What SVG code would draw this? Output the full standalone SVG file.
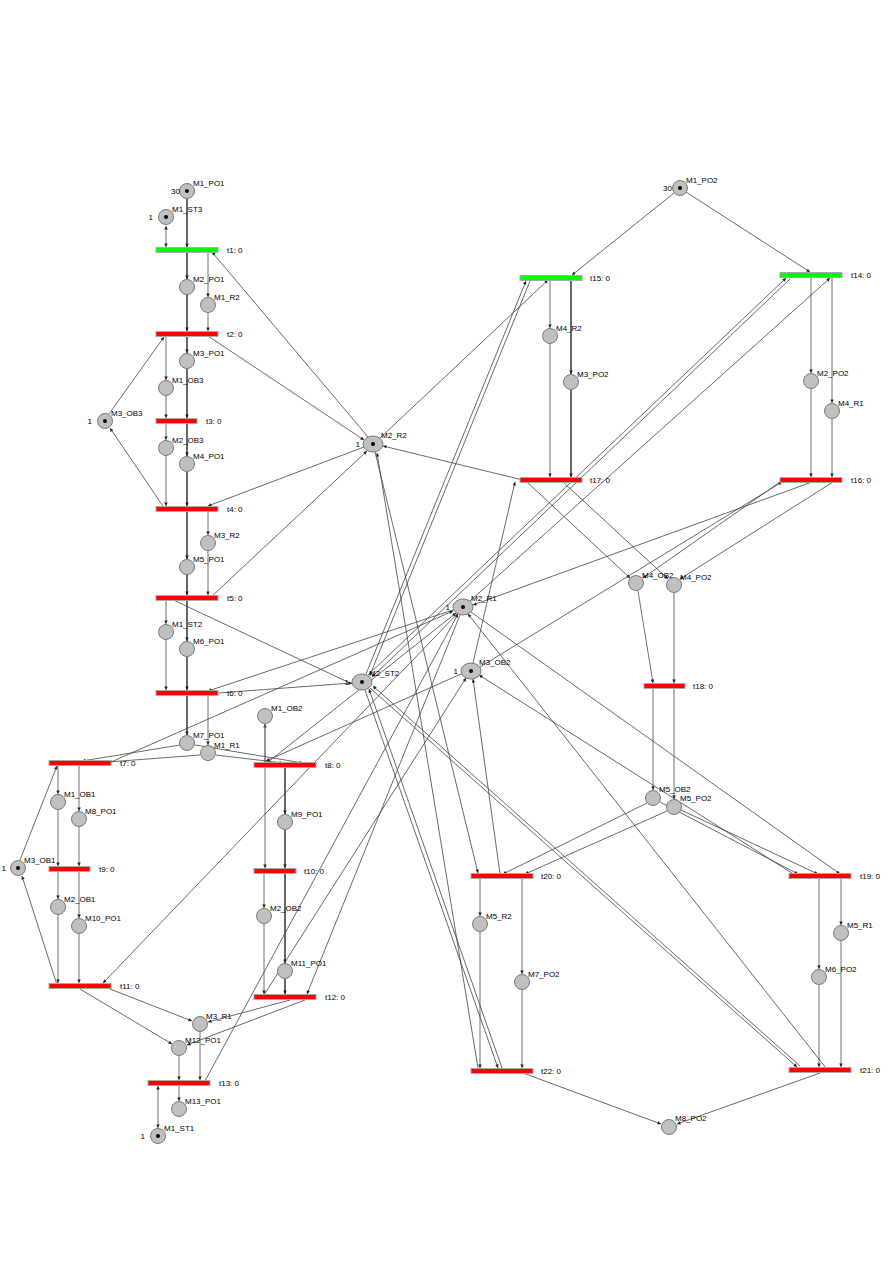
<svg xmlns="http://www.w3.org/2000/svg" width="893" height="1263" viewBox="0 0 893 1263">
<defs>
<style>
.p{fill:#c0c0c0;stroke:#7a7a7a;stroke-width:1}
.tr{fill:#ff0000;stroke:#a8a8a8;stroke-width:1}
.tg{fill:#00ff00;stroke:#a8a8a8;stroke-width:1}
.lbl{font-family:"Liberation Sans",Arial,sans-serif;font-size:8px;fill:#000}
.tok{fill:#000}
.b{stroke:#000;stroke-width:1.2;fill:none;marker-end:url(#ar)}
.g{stroke:#707070;stroke-width:1;fill:none;marker-end:url(#ar)}
.d{stroke:#444;stroke-width:0.8;fill:none;marker-end:url(#ar)}
.bi{marker-start:url(#ar)}
</style>
<marker id="ar" viewBox="0 0 6 6" refX="6" refY="3" markerWidth="4.5" markerHeight="3.5" markerUnits="userSpaceOnUse" orient="auto-start-reverse">
<path d="M0,0 L6,3 L0,6 z" fill="#222"/>
</marker>
</defs>
<rect x="0" y="0" width="893" height="1263" fill="#fff"/>
<g id="connectors">
<line class="b" x1="187" y1="198.5" x2="187" y2="247"/>
<line class="b" x1="187" y1="252.5" x2="187" y2="279"/>
<line class="b" x1="187" y1="295" x2="187" y2="331"/>
<line class="b" x1="187" y1="337" x2="187" y2="353"/>
<line class="b" x1="187" y1="369" x2="187" y2="418"/>
<line class="b" x1="187" y1="424" x2="187" y2="456"/>
<line class="b" x1="187" y1="472" x2="187" y2="506"/>
<line class="b" x1="187" y1="512" x2="187" y2="559"/>
<line class="b" x1="187" y1="575" x2="187" y2="595"/>
<line class="b" x1="187" y1="601" x2="187" y2="641"/>
<line class="b" x1="187" y1="657" x2="187" y2="690"/>
<line class="b" x1="187" y1="696" x2="187" y2="735"/>
<line class="b" x1="285" y1="768" x2="285" y2="814"/>
<line class="b" x1="285" y1="830" x2="285" y2="868"/>
<line class="b" x1="285" y1="874" x2="285" y2="963"/>
<line class="b" x1="285" y1="979" x2="285" y2="994"/>
<line class="b" x1="571" y1="281" x2="571" y2="374"/>
<line class="b" x1="571" y1="390" x2="571" y2="477"/>
<line class="g bi" x1="166" y1="226" x2="166" y2="247"/>
<line class="g" x1="208" y1="253" x2="208" y2="297"/>
<line class="g" x1="208" y1="313" x2="208" y2="331"/>
<line class="g" x1="166" y1="337" x2="166" y2="380"/>
<line class="g" x1="166" y1="396" x2="166" y2="418"/>
<line class="g" x1="166" y1="424" x2="166" y2="440"/>
<line class="g" x1="166" y1="456" x2="166" y2="506"/>
<line class="g" x1="208" y1="512" x2="208" y2="535"/>
<line class="g" x1="208" y1="551" x2="208" y2="595"/>
<line class="g" x1="166" y1="601" x2="166" y2="624"/>
<line class="g" x1="166" y1="640" x2="166" y2="690"/>
<line class="g" x1="208" y1="696" x2="208" y2="745"/>
<line class="g" x1="58" y1="766" x2="58" y2="794"/>
<line class="g" x1="79" y1="766" x2="79" y2="811"/>
<line class="g" x1="58" y1="810" x2="58" y2="866"/>
<line class="g" x1="79" y1="827" x2="79" y2="866"/>
<line class="g" x1="58" y1="872" x2="58" y2="899"/>
<line class="g" x1="79" y1="872" x2="79" y2="918"/>
<line class="g" x1="58" y1="915" x2="58" y2="983"/>
<line class="g" x1="79" y1="934" x2="79" y2="983"/>
<line class="g" x1="265" y1="762" x2="265" y2="724"/>
<line class="g" x1="265" y1="724" x2="265" y2="868"/>
<line class="g" x1="264" y1="874" x2="264" y2="908"/>
<line class="g" x1="264" y1="924" x2="264" y2="994"/>
<line class="g" x1="179" y1="1056" x2="179" y2="1080"/>
<line class="g" x1="200" y1="1032" x2="200" y2="1080"/>
<line class="g" x1="179" y1="1086" x2="179" y2="1101"/>
<line class="g bi" x1="158" y1="1086" x2="158" y2="1128"/>
<line class="g" x1="550" y1="281" x2="550" y2="328"/>
<line class="g" x1="550" y1="344" x2="550" y2="477"/>
<line class="g" x1="811" y1="278" x2="811" y2="373"/>
<line class="g" x1="832" y1="278" x2="832" y2="403"/>
<line class="g" x1="811" y1="389" x2="811" y2="477"/>
<line class="g" x1="832" y1="419" x2="832" y2="477"/>
<line class="g" x1="638" y1="591" x2="653" y2="683"/>
<line class="g" x1="674" y1="593" x2="674" y2="683"/>
<line class="g" x1="653" y1="689" x2="653" y2="790"/>
<line class="g" x1="674" y1="689" x2="674" y2="799"/>
<line class="g" x1="480" y1="879" x2="480" y2="916"/>
<line class="g" x1="522" y1="879" x2="522" y2="974"/>
<line class="g" x1="480" y1="932" x2="480" y2="1068"/>
<line class="g" x1="522" y1="990" x2="522" y2="1068"/>
<line class="g" x1="819" y1="879" x2="819" y2="969"/>
<line class="g" x1="841" y1="879" x2="841" y2="925"/>
<line class="g" x1="819" y1="985" x2="819" y2="1067"/>
<line class="g" x1="841" y1="941" x2="841" y2="1067"/>
<line class="d" x1="674" y1="193" x2="572" y2="275"/>
<line class="d" x1="686" y1="192" x2="810" y2="272"/>
<line class="d" x1="368" y1="437" x2="212" y2="252"/>
<line class="d" x1="208" y1="336" x2="364" y2="440"/>
<line class="d" x1="364" y1="447" x2="208" y2="506"/>
<line class="d" x1="210" y1="598" x2="367" y2="451"/>
<line class="d" x1="380" y1="438" x2="548" y2="280"/>
<line class="d" x1="527" y1="481" x2="383" y2="446"/>
<line class="d" x1="375" y1="452" x2="478" y2="873"/>
<line class="d" x1="478" y1="1068" x2="377" y2="453"/>
<line class="d" x1="109" y1="414" x2="164" y2="337"/>
<line class="d" x1="167" y1="512" x2="110" y2="428"/>
<line class="d" x1="352" y1="684" x2="167" y2="597"/>
<line class="d" x1="218" y1="693" x2="352" y2="683"/>
<line class="d" x1="453" y1="610" x2="208" y2="691"/>
<line class="d" x1="180" y1="745" x2="82" y2="761"/>
<line class="d" x1="200" y1="755" x2="108" y2="762"/>
<line class="d" x1="195" y1="745" x2="303" y2="763"/>
<line class="d" x1="216" y1="755" x2="283" y2="763"/>
<line class="d" x1="111" y1="762" x2="453" y2="611"/>
<line class="d" x1="20" y1="860" x2="57" y2="766"/>
<line class="d" x1="58" y1="988" x2="22" y2="876"/>
<line class="d" x1="268" y1="762" x2="456" y2="613"/>
<line class="d" x1="461" y1="674" x2="266" y2="761"/>
<line class="d" x1="457" y1="614" x2="103" y2="983"/>
<line class="d" x1="460" y1="615" x2="307" y2="994"/>
<line class="d" x1="264" y1="995" x2="466" y2="678"/>
<line class="d" x1="290" y1="1000" x2="208" y2="1022"/>
<line class="d" x1="305" y1="1000" x2="187" y2="1045"/>
<line class="d" x1="110" y1="989" x2="192" y2="1021"/>
<line class="d" x1="80" y1="989" x2="172" y2="1044"/>
<line class="d" x1="205" y1="1081" x2="458" y2="614"/>
<line class="d" x1="470" y1="601" x2="830" y2="278"/>
<line class="d" x1="368" y1="675" x2="786" y2="278"/>
<line class="d" x1="790" y1="279" x2="372" y2="677"/>
<line class="d" x1="366" y1="674" x2="526" y2="281"/>
<line class="d" x1="530" y1="281" x2="370" y2="675"/>
<line class="d" x1="370" y1="688" x2="797" y2="1067"/>
<line class="d" x1="800" y1="1066" x2="373" y2="686"/>
<line class="d" x1="365" y1="690" x2="498" y2="1068"/>
<line class="d" x1="502" y1="1068" x2="369" y2="689"/>
<line class="d" x1="812" y1="482" x2="473" y2="605"/>
<line class="d" x1="480" y1="667" x2="782" y2="482"/>
<line class="d" x1="780" y1="482" x2="643" y2="578"/>
<line class="d" x1="833" y1="482" x2="680" y2="579"/>
<line class="d" x1="527" y1="482" x2="630" y2="578"/>
<line class="d" x1="563" y1="482" x2="668" y2="579"/>
<line class="d" x1="473" y1="663" x2="515" y2="482"/>
<line class="d" x1="647" y1="803" x2="503" y2="874"/>
<line class="d" x1="667" y1="811" x2="525" y2="874"/>
<line class="d" x1="660" y1="802" x2="798" y2="874"/>
<line class="d" x1="681" y1="810" x2="818" y2="874"/>
<line class="d" x1="471" y1="612" x2="840" y2="874"/>
<line class="d" x1="795" y1="875" x2="479" y2="675"/>
<line class="d" x1="500" y1="874" x2="473" y2="679"/>
<line class="d" x1="826" y1="1068" x2="468" y2="614"/>
<line class="d" x1="820" y1="1073" x2="677" y2="1124"/>
<line class="d" x1="523" y1="1073" x2="661" y2="1124"/>
</g>
<g id="M1_PO1"><circle class="p" cx="187" cy="191" r="7.5"/><circle class="tok" cx="187" cy="191" r="2"/><text class="lbl" x="193" y="186">M1_PO1</text><text class="lbl" x="180" y="194" text-anchor="end">30</text></g>
<g id="M1_ST3"><circle class="p" cx="166" cy="217" r="7.5"/><circle class="tok" cx="166" cy="217" r="2"/><text class="lbl" x="172" y="212">M1_ST3</text><text class="lbl" x="153" y="220" text-anchor="end">1</text></g>
<g id="M2_PO1"><circle class="p" cx="187" cy="287" r="7.5"/><text class="lbl" x="193" y="282">M2_PO1</text></g>
<g id="M1_R2"><circle class="p" cx="208" cy="305" r="7.5"/><text class="lbl" x="214" y="300">M1_R2</text></g>
<g id="M3_PO1"><circle class="p" cx="187" cy="361" r="7.5"/><text class="lbl" x="193" y="356">M3_PO1</text></g>
<g id="M1_OB3"><circle class="p" cx="166" cy="388" r="7.5"/><text class="lbl" x="172" y="383">M1_OB3</text></g>
<g id="M3_OB3"><circle class="p" cx="105" cy="421" r="7.5"/><circle class="tok" cx="105" cy="421" r="2"/><text class="lbl" x="111" y="416">M3_OB3</text><text class="lbl" x="92" y="424" text-anchor="end">1</text></g>
<g id="M2_OB3"><circle class="p" cx="166" cy="448" r="7.5"/><text class="lbl" x="172" y="443">M2_OB3</text></g>
<g id="M4_PO1"><circle class="p" cx="187" cy="464" r="7.5"/><text class="lbl" x="193" y="459">M4_PO1</text></g>
<g id="M3_R2"><circle class="p" cx="208" cy="543" r="7.5"/><text class="lbl" x="214" y="538">M3_R2</text></g>
<g id="M5_PO1"><circle class="p" cx="187" cy="567" r="7.5"/><text class="lbl" x="193" y="562">M5_PO1</text></g>
<g id="M1_ST2"><circle class="p" cx="166" cy="632" r="7.5"/><text class="lbl" x="172" y="627">M1_ST2</text></g>
<g id="M6_PO1"><circle class="p" cx="187" cy="649" r="7.5"/><text class="lbl" x="193" y="644">M6_PO1</text></g>
<g id="M1_OB2"><circle class="p" cx="265" cy="716" r="7.5"/><text class="lbl" x="271" y="711">M1_OB2</text></g>
<g id="M7_PO1"><circle class="p" cx="187" cy="743" r="7.5"/><text class="lbl" x="193" y="738">M7_PO1</text></g>
<g id="M1_R1"><circle class="p" cx="208" cy="753" r="7.5"/><text class="lbl" x="214" y="748">M1_R1</text></g>
<g id="M1_OB1"><circle class="p" cx="58" cy="802" r="7.5"/><text class="lbl" x="64" y="797">M1_OB1</text></g>
<g id="M8_PO1"><circle class="p" cx="79" cy="819" r="7.5"/><text class="lbl" x="85" y="814">M8_PO1</text></g>
<g id="M9_PO1"><circle class="p" cx="285" cy="822" r="7.5"/><text class="lbl" x="291" y="817">M9_PO1</text></g>
<g id="M3_OB1"><circle class="p" cx="18" cy="868" r="7.5"/><circle class="tok" cx="18" cy="868" r="2"/><text class="lbl" x="24" y="863">M3_OB1</text><text class="lbl" x="6" y="871" text-anchor="end">1</text></g>
<g id="M2_OB1"><circle class="p" cx="58" cy="907" r="7.5"/><text class="lbl" x="64" y="902">M2_OB1</text></g>
<g id="M10_PO1"><circle class="p" cx="79" cy="926" r="7.5"/><text class="lbl" x="85" y="921">M10_PO1</text></g>
<g id="M2_OB2"><circle class="p" cx="264" cy="916" r="7.5"/><text class="lbl" x="270" y="911">M2_OB2</text></g>
<g id="M11_PO1"><circle class="p" cx="285" cy="971" r="7.5"/><text class="lbl" x="291" y="966">M11_PO1</text></g>
<g id="M3_R1"><circle class="p" cx="200" cy="1024" r="7.5"/><text class="lbl" x="206" y="1019">M3_R1</text></g>
<g id="M12_PO1"><circle class="p" cx="179" cy="1048" r="7.5"/><text class="lbl" x="185" y="1043">M12_PO1</text></g>
<g id="M13_PO1"><circle class="p" cx="179" cy="1109" r="7.5"/><text class="lbl" x="185" y="1104">M13_PO1</text></g>
<g id="M1_ST1"><circle class="p" cx="158" cy="1136" r="7.5"/><circle class="tok" cx="158" cy="1136" r="2"/><text class="lbl" x="164" y="1131">M1_ST1</text><text class="lbl" x="145" y="1139" text-anchor="end">1</text></g>
<g id="M1_PO2"><circle class="p" cx="680" cy="188" r="7.5"/><circle class="tok" cx="680" cy="188" r="2"/><text class="lbl" x="686" y="183">M1_PO2</text><text class="lbl" x="672" y="191" text-anchor="end">30</text></g>
<g id="M4_R2"><circle class="p" cx="550" cy="336" r="7.5"/><text class="lbl" x="556" y="331">M4_R2</text></g>
<g id="M3_PO2"><circle class="p" cx="571" cy="382" r="7.5"/><text class="lbl" x="577" y="377">M3_PO2</text></g>
<g id="M2_PO2"><circle class="p" cx="811" cy="381" r="7.5"/><text class="lbl" x="817" y="376">M2_PO2</text></g>
<g id="M4_R1"><circle class="p" cx="832" cy="411" r="7.5"/><text class="lbl" x="838" y="406">M4_R1</text></g>
<g id="M2_R2"><ellipse class="p" cx="373" cy="444" rx="10" ry="8"/><circle class="tok" cx="373" cy="444" r="2"/><text class="lbl" x="381" y="438">M2_R2</text><text class="lbl" x="360" y="447" text-anchor="end">1</text></g>
<g id="M2_R1"><ellipse class="p" cx="463" cy="607" rx="10" ry="8"/><circle class="tok" cx="463" cy="607" r="2"/><text class="lbl" x="471" y="601">M2_R1</text><text class="lbl" x="450" y="610" text-anchor="end">1</text></g>
<g id="M2_ST2"><ellipse class="p" cx="362" cy="682" rx="10" ry="8"/><circle class="tok" cx="362" cy="682" r="2"/><text class="lbl" x="369" y="676">M2_ST2</text><text class="lbl" x="349" y="685" text-anchor="end">1</text></g>
<g id="M3_OB2"><ellipse class="p" cx="471" cy="671" rx="10" ry="8"/><circle class="tok" cx="471" cy="671" r="2"/><text class="lbl" x="479" y="665">M3_OB2</text><text class="lbl" x="458" y="674" text-anchor="end">1</text></g>
<g id="M4_OB2"><circle class="p" cx="636" cy="583" r="7.5"/><text class="lbl" x="642" y="578">M4_OB2</text></g>
<g id="M4_PO2"><circle class="p" cx="674" cy="585" r="7.5"/><text class="lbl" x="680" y="580">M4_PO2</text></g>
<g id="M5_OB2"><circle class="p" cx="653" cy="798" r="7.5"/><text class="lbl" x="659" y="792">M5_OB2</text></g>
<g id="M5_PO2"><circle class="p" cx="674" cy="807" r="7.5"/><text class="lbl" x="680" y="801">M5_PO2</text></g>
<g id="M5_R2"><circle class="p" cx="480" cy="924" r="7.5"/><text class="lbl" x="486" y="919">M5_R2</text></g>
<g id="M7_PO2"><circle class="p" cx="522" cy="982" r="7.5"/><text class="lbl" x="528" y="977">M7_PO2</text></g>
<g id="M5_R1"><circle class="p" cx="841" cy="933" r="7.5"/><text class="lbl" x="847" y="928">M5_R1</text></g>
<g id="M6_PO2"><circle class="p" cx="819" cy="977" r="7.5"/><text class="lbl" x="825" y="972">M6_PO2</text></g>
<g id="M8_PO2"><circle class="p" cx="669" cy="1127" r="7.5"/><text class="lbl" x="675" y="1121">M8_PO2</text></g>
<g id="t1"><rect class="tg" x="156" y="247.5" width="62" height="5"/><text class="lbl" x="227" y="253">t1: 0</text></g>
<g id="t2"><rect class="tr" x="156" y="331.5" width="62" height="5"/><text class="lbl" x="227" y="337">t2: 0</text></g>
<g id="t3"><rect class="tr" x="156" y="418.5" width="41" height="5"/><text class="lbl" x="206" y="424">t3: 0</text></g>
<g id="t4"><rect class="tr" x="156" y="506.5" width="62" height="5"/><text class="lbl" x="227" y="512">t4: 0</text></g>
<g id="t5"><rect class="tr" x="156" y="595.5" width="62" height="5"/><text class="lbl" x="227" y="601">t5: 0</text></g>
<g id="t6"><rect class="tr" x="156" y="690.5" width="62" height="5"/><text class="lbl" x="227" y="696">t6: 0</text></g>
<g id="t7"><rect class="tr" x="49" y="760.5" width="62" height="5"/><text class="lbl" x="120" y="766">t7: 0</text></g>
<g id="t8"><rect class="tr" x="254" y="762.5" width="62" height="5"/><text class="lbl" x="325" y="768">t8: 0</text></g>
<g id="t9"><rect class="tr" x="49" y="866.5" width="41" height="5"/><text class="lbl" x="99" y="872">t9: 0</text></g>
<g id="t10"><rect class="tr" x="254" y="868.5" width="42" height="5"/><text class="lbl" x="304" y="874">t10: 0</text></g>
<g id="t11"><rect class="tr" x="49" y="983.5" width="62" height="5"/><text class="lbl" x="120" y="989">t11: 0</text></g>
<g id="t12"><rect class="tr" x="254" y="994.5" width="62" height="5"/><text class="lbl" x="325" y="1000">t12: 0</text></g>
<g id="t13"><rect class="tr" x="148" y="1080.5" width="62" height="5"/><text class="lbl" x="219" y="1086">t13: 0</text></g>
<g id="t14"><rect class="tg" x="780" y="272.5" width="62" height="5"/><text class="lbl" x="851" y="278">t14: 0</text></g>
<g id="t15"><rect class="tg" x="520" y="275.5" width="62" height="5"/><text class="lbl" x="590" y="281">t15: 0</text></g>
<g id="t16"><rect class="tr" x="780" y="477.5" width="62" height="5"/><text class="lbl" x="851" y="483">t16: 0</text></g>
<g id="t17"><rect class="tr" x="520" y="477.5" width="62" height="5"/><text class="lbl" x="590" y="483">t17: 0</text></g>
<g id="t18"><rect class="tr" x="644" y="683.5" width="41" height="5"/><text class="lbl" x="693" y="689">t18: 0</text></g>
<g id="t19"><rect class="tr" x="789" y="873.5" width="62" height="5"/><text class="lbl" x="860" y="879">t19: 0</text></g>
<g id="t20"><rect class="tr" x="471" y="873.5" width="62" height="5"/><text class="lbl" x="541" y="879">t20: 0</text></g>
<g id="t21"><rect class="tr" x="789" y="1067.5" width="62" height="5"/><text class="lbl" x="860" y="1073">t21: 0</text></g>
<g id="t22"><rect class="tr" x="471" y="1068.5" width="62" height="5"/><text class="lbl" x="541" y="1074">t22: 0</text></g>
</svg>
